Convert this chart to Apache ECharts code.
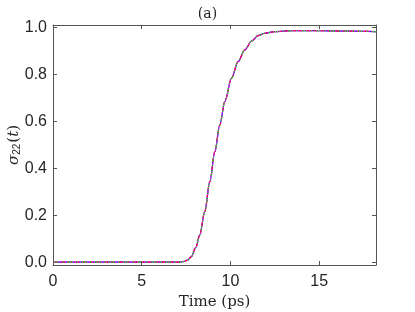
<!DOCTYPE html>
<html>
<head>
<meta charset="utf-8">
<script src="https://cdn.jsdelivr.net/npm/echarts@6/dist/echarts.min.js"></script>
<style>
	html, body { margin: 0; padding: 0; background: #fff; }
	#chart { width: 415px; height: 312px; }
</style>
</head>
<body>
<div id="chart"></div>
<script>
// 时间 (ps) 与 sigma22(t)
var timeValues = [0, 2, 4, 6, 7, 7.2, 7.43, 7.6, 7.8, 8.05, 8.27, 8.55, 8.84, 9.12, 9.4, 9.68, 10.06, 10.43, 10.81, 11.19, 11.56, 11.94, 12.5, 13.5, 15, 16.5, 18.2];
var sigmaValues = [0.002, 0.002, 0.002, 0.002, 0.002, 0.003, 0.006, 0.012, 0.026, 0.065, 0.118, 0.217, 0.345, 0.472, 0.586, 0.685, 0.785, 0.855, 0.905, 0.943, 0.966, 0.976, 0.983, 0.987, 0.987, 0.985, 0.983];
var seriesStyles = [
	{ color: '#0000ff', type: 'solid' },
	{ color: '#ff0000', type: 'dashed' },
	{ color: '#00ee00', type: [6, 3, 2, 3] },
	{ color: '#ff00ff', type: 'dotted' }
];

var lineData = timeValues.map(function(t, i) {
	return [t, sigmaValues[i]];
});

var chart = echarts.init(document.getElementById('chart'));
var axisColor = '#555555';
var textColor = '#262626';
var sansFont = 'Liberation Sans';
var serifFont = 'DejaVu Serif';

// 外框范围略大于 [0,1]，刻度放在第二个网格上
var yMin = -0.01, yMax = 1.011;
var plotTop = 25, plotBottom = 47, plotH = 312 - plotTop - plotBottom;
var pxPerUnit = plotH / (yMax - yMin);
var tickTop = plotTop + (yMax - 1) * pxPerUnit;
var tickBottom = plotBottom + (0 - yMin) * pxPerUnit;
var tickStyle = { show: true, inside: false, length: -4, lineStyle: { color: axisColor } };

chart.setOption({
	animation: false,
	title: {
		text: '(a)',
		left: 'center',
		top: 2,
		textStyle: { fontFamily: serifFont, fontSize: 14, fontWeight: 'normal', color: textColor }
	},
	grid: [
		{ left: 53, right: 39, top: plotTop, bottom: plotBottom, outerBoundsMode: 'none', containLabel: false },
		{ left: 53, right: 39, top: tickTop, bottom: tickBottom, outerBoundsMode: 'none', containLabel: false }
	],
	xAxis: [{
		type: 'value',
		gridIndex: 0,
		min: 0,
		max: 18.2,
		interval: 5,
		name: 'Time (ps)',
		nameLocation: 'middle',
		nameGap: 27,
		nameTextStyle: { fontFamily: serifFont, fontSize: 15, color: textColor },
		axisLine: { onZero: false, lineStyle: { color: axisColor } },
		axisTick: tickStyle,
		axisLabel: { fontFamily: sansFont, fontSize: 16, color: textColor, margin: 9, showMaxLabel: false },
		splitLine: { show: false }
	}, {
		type: 'value',
		gridIndex: 0,
		position: 'top',
		min: 0,
		max: 18.2,
		interval: 5,
		axisLine: { onZero: false, lineStyle: { color: axisColor } },
		axisTick: tickStyle,
		axisLabel: { show: false },
		splitLine: { show: false }
	}, {
		type: 'value',
		gridIndex: 1,
		min: 0,
		max: 18.2,
		show: false
	}],
	yAxis: [{
		type: 'value',
		gridIndex: 0,
		min: yMin,
		max: yMax,
		name: '{s|σ}{sub|22}{n|(}{s|t}{n|)}',
		nameLocation: 'middle',
		nameGap: 31,
		nameRotate: 90,
		nameTextStyle: {
			color: textColor,
			rich: {
				s: { fontFamily: serifFont, fontStyle: 'italic', fontSize: 15, color: textColor },
				n: { fontFamily: serifFont, fontSize: 15, color: textColor },
				sub: { fontFamily: sansFont, fontSize: 10, color: textColor, verticalAlign: 'bottom', padding: [6, 1, 0, 0] }
			}
		},
		axisLine: { show: true, onZero: false, lineStyle: { color: axisColor } },
		axisTick: { show: false },
		axisLabel: { show: false },
		splitLine: { show: false }
	}, {
		type: 'value',
		gridIndex: 0,
		position: 'right',
		min: yMin,
		max: yMax,
		axisLine: { show: true, onZero: false, lineStyle: { color: axisColor } },
		axisTick: { show: false },
		axisLabel: { show: false },
		splitLine: { show: false }
	}, {
		type: 'value',
		gridIndex: 1,
		min: 0,
		max: 1,
		interval: 0.2,
		axisLine: { show: false, onZero: false },
		axisTick: tickStyle,
		axisLabel: {
			fontFamily: sansFont, fontSize: 16, color: textColor, margin: 6,
			formatter: function(v) { return v.toFixed(1); }
		},
		splitLine: { show: false }
	}, {
		type: 'value',
		gridIndex: 1,
		position: 'right',
		min: 0,
		max: 1,
		interval: 0.2,
		axisLine: { show: false, onZero: false },
		axisTick: tickStyle,
		axisLabel: { show: false },
		splitLine: { show: false }
	}],
	series: seriesStyles.map(function(st) {
		return {
			type: 'line',
			data: lineData,
			xAxisIndex: 0,
			yAxisIndex: 0,
			showSymbol: false,
			smooth: 0.3,
			smoothMonotone: 'x',
			lineStyle: { color: st.color, type: st.type, width: 1.2 }
		};
	})
});
</script>
</body>
</html>
